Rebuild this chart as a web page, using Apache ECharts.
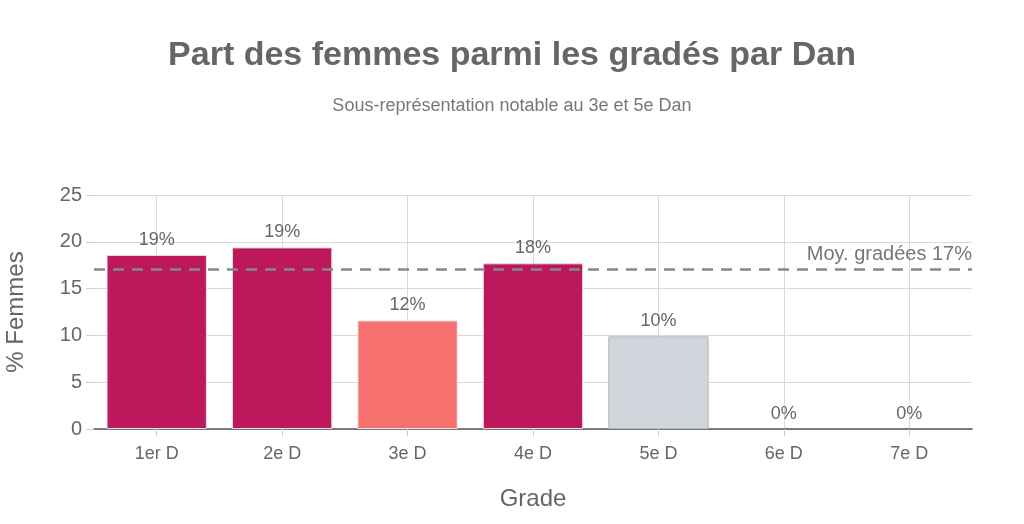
<!DOCTYPE html>
<html>
<head>
<meta charset="utf-8">
<script src="https://cdn.jsdelivr.net/npm/echarts@6/dist/echarts.min.js"></script>
<style>
  html, body { margin: 0; padding: 0; background: #fff; }
  #chart { width: 1024px; height: 524px; }
</style>
</head>
<body>
<div id="chart"></div>
<script>
var grades = ['1er D', '2e D', '3e D', '4e D', '5e D', '6e D', '7e D'];
var pctFemmes = [18.6, 19.4, 11.6, 17.7, 9.9, 0, 0];
var moyenne = 17.1;
var yTicks = [0, 5, 10, 15, 20, 25];

// couleur par grade (3e et 5e mis en avant)
var couleurs = {
    '3e D': { fill: '#F87171', border: '#e9e9e9' },
    '5e D': { fill: '#D1D5DB', border: '#b4b8be' }
};
var defaut = { fill: '#BE185D', border: '#e3dfe1' };

var police = 'Liberation Sans';
var chart = echarts.init(document.getElementById('chart'));

var barData = pctFemmes.map(function (v, i) {
    var c = couleurs[grades[i]] || defaut;
    return {
        value: v,
        itemStyle: { color: c.fill, borderColor: c.border, borderWidth: v > 0 ? 1 : 0 }
    };
});

var option = {
    textStyle: { fontFamily: police },
    title: {
        text: 'Part des femmes parmi les gradés par Dan',
        subtext: 'Sous-représentation notable au 3e et 5e Dan',
        left: 'center',
        top: 34,
        itemGap: 24,
        textStyle: { fontSize: 34, fontWeight: 'bold', color: '#666', fontFamily: police },
        subtextStyle: { fontSize: 18, color: '#777', fontFamily: police }
    },
    grid: { left: 94, right: 52, top: 195, bottom: 95, containLabel: false, outerBoundsMode: 'none' },
    xAxis: {
        type: 'category',
        data: grades,
        name: 'Grade',
        nameLocation: 'middle',
        nameGap: 58,
        nameTextStyle: { fontSize: 24, color: '#666' },
        axisLine: { show: true, lineStyle: { color: '#555', width: 1.5 } },
        axisTick: { show: true, alignWithLabel: true, length: 7, lineStyle: { color: '#ccc' } },
        axisLabel: { fontSize: 18, color: '#666', margin: 16 },
        splitLine: { show: true, alignWithLabel: true, lineStyle: { color: '#d9d9d9' } }
    },
    yAxis: {
        type: 'value',
        min: yTicks[0],
        max: yTicks[yTicks.length - 1],
        interval: yTicks[1] - yTicks[0],
        name: '% Femmes',
        nameLocation: 'middle',
        nameGap: 66,
        nameTextStyle: { fontSize: 24, color: '#666' },
        axisLine: { show: false },
        axisTick: { show: true, length: 8, lineStyle: { color: '#ccc' } },
        axisLabel: { fontSize: 20, color: '#666', margin: 12 },
        splitLine: { lineStyle: { color: '#d9d9d9' } }
    },
    series: [{
        type: 'bar',
        data: barData,
        barCategoryGap: '20%',
        label: {
            show: true,
            position: 'top',
            distance: 6,
            fontSize: 18,
            color: '#666',
            formatter: function (p) { return Math.round(p.value) + '%'; }
        },
        markLine: {
            silent: true,
            symbol: 'none',
            lineStyle: { color: '#888', type: [11, 8], width: 2.5 },
            label: {
                position: 'insideEndTop',
                fontSize: 20,
                color: '#777',
                distance: [0, 4],
                formatter: function () { return 'Moy. gradées ' + Math.round(moyenne) + '%'; }
            },
            data: [{ yAxis: moyenne }]
        }
    }]
};

chart.setOption(option);
</script>
</body>
</html>
